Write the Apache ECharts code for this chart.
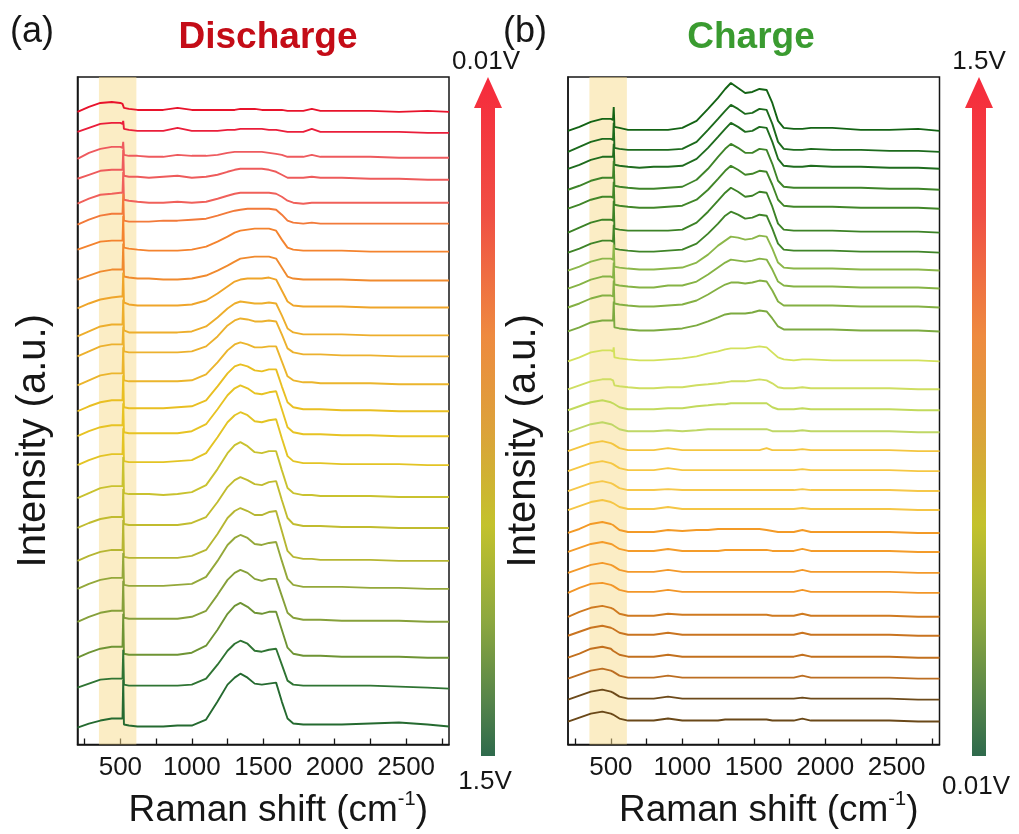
<!DOCTYPE html>
<html>
<head>
<meta charset="utf-8">
<script src="https://cdn.jsdelivr.net/npm/echarts/dist/echarts.min.js"></script>
<style>html,body{margin:0;padding:0;background:#fff;}#main{width:1019px;height:834px;}</style>
</head>
<body>
<div id="main"></div>
<script>
// Raman shift sample positions (cm-1)
const X = [200,280,360,440,500,515,520,525,560,620, 700,800,900,1000,1100,1180,1250,1300,1340,1390, 1440,1490,1540,1590,1630,1670,1710,1780,1840,1900, 2050,2250,2450,2650,2800];
const tickValues = [250,500,750,1000,1250,1500,1750,2000,2250,2500,2750];
const labelValues = [500,1000,1500,2000,2500];
const bandRange = [350, 612];

// (a) Discharge: stacking offsets (top 0.01V -> bottom 1.5V)
const dischargeBase = [634,613,588,566,543,522,494,465,438,410,389,361,334,309,280,248,217,184,156,123,87,56,17];
const dischargeShape = [
[0,5,9,10,9,8,8,4,3,2, 2,2,4,2,2,2,2,2,3,3, 3,2,2,2,2,1,1,1,3,1, 1,1,0,1,0],
[1,5,9,10,10,9,12,4,3,2, 2,2,5,2,2,2,3,3,4,4, 4,4,3,3,2,1,1,1,4,1, 1,1,1,0,0],
[-1,5,9,11,11,10,16,3,2,2, 1,1,3,2,2,3,5,6,6,6, 6,6,5,4,3,1,1,1,3,1, 1,1,0,0,0],
[1,5,9,10,10,10,30,4,3,3, 2,3,4,2,3,5,8,10,11,11, 11,11,10,8,5,2,2,2,3,2, 2,1,1,0,0],
[-1,4,8,9,10,10,31,3,2,1, 0,0,1,0,1,4,7,9,10,10, 10,10,10,9,6,2,0,-1,0,0, 0,0,0,0,0],
[-1,4,8,10,10,10,30,3,2,2, 2,3,3,4,5,8,11,13,14,15, 15,15,15,14,9,3,1,0,1,0, 0,0,0,0,0],
[2,6,10,11,11,11,36,4,3,2, 1,1,1,2,5,10,15,19,21,22, 23,23,23,21,12,4,2,1,1,1, 1,0,0,0,0],
[1,5,9,11,11,11,37,4,3,2, 2,1,1,2,5,10,15,19,22,23, 24,24,24,22,13,4,2,1,1,1, 1,0,0,0,0],
[-1,4,8,10,11,11,35,5,3,2, 2,2,2,3,7,14,21,26,28,29, 29,29,30,28,17,6,2,1,1,1, 1,0,0,0,0],
[-1,4,9,11,11,11,36,5,3,3, 3,3,3,4,9,18,27,32,34,33, 32,32,33,32,20,7,3,1,1,1, 1,0,0,0,0],
[0,5,10,12,12,12,30,5,4,4, 4,4,4,5,10,20,31,36,38,37, 35,35,36,35,22,8,4,2,2,2, 1,1,0,0,0],
[-1,4,9,11,11,11,37,4,3,3, 3,3,3,4,10,22,34,40,42,40, 37,37,38,38,23,8,4,2,2,1, 1,1,0,0,0],
[0,5,9,11,11,11,36,4,3,3, 3,3,4,5,11,25,38,45,47,45, 41,40,42,42,25,9,4,2,2,2, 1,1,0,0,0],
[0,5,9,11,11,11,33,4,3,3, 3,3,3,5,12,27,41,48,51,48, 43,42,44,45,27,9,4,2,2,2, 1,1,0,0,0],
[0,5,9,11,11,11,37,4,3,3, 3,3,4,5,12,28,43,50,53,50, 44,43,45,46,27,9,4,2,2,2, 1,1,1,0,0],
[-1,4,9,11,11,11,40,4,3,3, 3,2,3,5,12,28,44,52,55,51, 45,44,46,46,27,9,4,2,2,1, 1,1,0,0,0],
[0,5,9,11,11,11,39,4,3,3, 3,3,3,5,11,26,41,48,51,48, 44,43,46,47,28,10,4,2,2,2, 1,1,0,0,0],
[0,5,9,11,11,11,41,4,3,3, 3,3,3,5,11,27,43,50,53,50, 46,46,49,50,30,10,4,2,2,1, 1,1,0,0,0],
[0,5,9,11,11,11,36,4,3,3, 3,3,4,5,12,28,44,51,54,51, 45,44,46,47,28,10,4,2,2,2, 2,1,1,0,0],
[0,5,9,11,11,11,41,4,3,3, 3,3,3,5,11,27,42,49,52,49, 43,41,43,43,26,9,4,2,2,2, 1,1,1,0,0],
[0,5,9,11,11,11,44,4,3,3, 3,3,3,5,12,28,44,52,55,51, 45,44,46,46,28,10,4,2,2,2, 1,1,1,0,0],
[1,5,9,10,10,10,39,4,3,3, 3,3,3,4,10,24,38,45,48,45, 38,37,39,40,24,8,4,3,3,3, 3,3,2,1,0],
[0,4,7,9,9,9,48,3,2,1, 1,1,2,2,8,26,43,50,54,50, 44,43,44,45,26,9,4,3,3,3, 3,4,5,3,1]
];
const dischargeColors = ['#E8132B','#EA1E3A','#EE5A5E','#EE5B5B','#F0605A','#F27A3A','#F4832E','#F08A2E','#EFA52A','#EDAE2C','#ECB12E','#EBB52C','#E9BF22','#E7C323','#E3C424','#C9C22F','#C1BC2F','#B6B632','#94A83A','#86A03A','#6E9434','#2F7433','#256A30'];

// (b) Charge: stacking offsets (top 1.5V -> bottom 0.01V)
const chargeBase = [615,594,577,556,537,513,493,475,457,438,414,384,356,335,313,294,274,254,235,212,193,172,152,128,109,87,66,45,23];
const chargeShape = [
[0,4,9,12,12,11,24,4,3,1, 1,1,1,3,10,22,33,42,48,43, 38,39,42,41,28,10,3,2,2,3, 3,1,1,2,0],
[0,5,10,13,13,12,29,4,3,2, 2,2,2,3,10,22,33,41,47,43, 38,39,43,42,28,10,3,2,2,3, 2,2,1,1,0],
[0,4,9,12,12,12,25,4,3,2, 1,2,2,3,10,21,32,40,46,42, 37,38,42,41,27,10,3,2,2,3, 2,2,1,1,0],
[0,4,9,12,12,12,29,4,3,2, 1,1,2,3,10,21,33,41,46,42, 37,37,41,40,26,9,3,2,2,2, 2,2,1,1,0],
[0,4,9,12,12,11,27,4,3,2, 1,1,2,3,9,19,30,38,43,39, 34,35,38,37,24,9,3,2,2,2, 2,1,1,1,0],
[0,5,10,13,13,12,32,4,3,2, 2,2,2,3,10,21,32,40,45,41, 36,37,41,40,26,9,3,2,2,2, 2,1,1,1,0],
[0,4,9,12,12,11,28,4,3,2, 1,1,2,3,9,19,29,37,41,38, 34,35,38,37,24,9,3,2,2,2, 2,1,1,1,0],
[0,4,9,12,12,11,26,4,3,2, 1,1,2,3,8,16,25,30,34,33, 31,32,35,34,22,8,3,2,2,2, 2,1,1,1,0],
[0,4,9,12,12,11,26,4,3,2, 1,1,3,3,7,14,21,26,29,28, 27,28,30,29,19,7,3,2,2,2, 2,1,1,1,0],
[0,4,9,12,12,11,27,4,3,2, 1,1,2,3,7,13,19,23,25,25, 24,25,27,26,17,6,2,2,2,2, 2,1,1,1,0],
[0,4,9,11,11,11,30,4,3,2, 1,1,2,3,6,10,14,17,18,18, 18,19,21,20,13,5,2,2,2,2, 2,1,1,1,0],
[0,4,9,11,11,10,14,4,3,2, 1,1,2,3,5,8,10,12,13,13, 13,14,15,14,9,4,2,1,2,2, 1,1,1,1,0],
[0,4,8,10,10,9,11,4,3,2, 1,1,2,2,4,5,6,7,8,8, 8,9,10,9,6,2,1,1,2,1, 1,1,1,0,0],
[0,4,8,10,8,7,7,6,3,1, 1,1,2,2,4,5,6,6,7,7, 7,7,7,7,3,1,1,1,2,1, 1,1,1,0,0],
[0,4,8,10,8,7,7,6,3,1, 1,1,2,1,2,3,3,3,3,3, 3,3,3,3,1,1,1,1,2,1, 1,1,1,0,0],
[0,4,8,10,8,7,7,6,3,1, 1,1,3,1,1,1,1,1,1,1, 1,1,1,3,1,1,1,1,2,1, 1,1,1,0,0],
[0,4,8,10,8,7,7,6,3,1, 1,1,3,1,1,1,1,1,1,1, 1,1,1,1,1,1,1,1,2,1, 1,1,1,0,0],
[0,4,8,10,8,7,7,6,3,1, 1,1,2,1,1,1,1,1,1,1, 1,1,1,1,1,1,1,1,2,1, 1,1,1,0,0],
[0,4,8,10,8,7,7,6,3,1, 1,1,3,1,1,1,1,1,1,1, 1,1,1,1,1,1,1,1,2,1, 1,1,1,0,0],
[0,4,9,11,9,8,8,7,3,1, 1,1,3,2,3,3,4,4,4,4, 4,4,4,3,2,1,1,1,3,1, 1,1,1,0,0],
[0,4,8,10,8,7,7,6,3,1, 1,1,3,1,1,1,1,2,2,2, 2,2,2,2,1,1,1,1,3,1, 1,1,1,0,0],
[0,4,8,10,8,7,7,6,3,1, 1,1,3,1,1,1,1,1,1,1, 1,1,1,1,1,1,1,1,3,1, 1,1,1,0,0],
[0,5,9,10,8,7,7,6,3,1, 1,1,3,1,1,1,1,1,1,1, 1,1,1,1,1,1,1,1,3,1, 1,1,1,0,0],
[0,5,9,11,9,8,8,7,3,1, 1,1,3,2,2,2,2,2,2,2, 2,2,2,2,1,1,1,1,3,1, 1,1,1,0,0],
[0,4,8,10,8,7,7,6,3,1, 1,1,3,1,1,1,1,1,1,1, 1,1,1,1,1,1,1,1,3,1, 1,1,1,0,0],
[0,4,9,11,9,7,7,6,3,1, 1,1,3,1,1,1,1,1,1,1, 1,1,1,1,1,1,1,1,3,1, 1,1,1,0,0],
[0,4,8,10,8,7,7,6,3,1, 1,1,3,1,1,1,1,1,1,1, 1,1,1,1,1,1,1,1,3,1, 1,1,1,0,0],
[0,4,8,10,8,7,7,6,3,1, 1,1,3,1,1,1,1,1,1,1, 1,1,1,1,1,1,1,1,2,1, 1,1,1,0,0],
[0,4,8,10,8,7,7,6,3,1, 1,1,3,1,1,1,1,2,2,2, 2,2,2,2,1,1,1,1,3,1, 1,1,1,0,0]
];
const chargeColors = ['#136314','#1C6A1C','#1F6C1E','#3E8429','#418628','#3C8226','#3F8428','#8CB74A','#86B345','#84B043','#7CAA40','#D3E15C','#CFDE62','#C2DA5C','#BFD766','#F4C640','#F6C844','#F6C84A','#F5C645','#F39A26','#F49C2A','#F3992A','#F29628','#CF7A20','#C97420','#C2701E','#BC6E22','#6D4A1A','#6A4818'];

const FONT = '"Liberation Sans", Arial, Helvetica, sans-serif';
const INK = '#161616';

function curveSeries(base, shape, colors, idx, prefix) {
  return base.map((b, i) => ({
    name: prefix + ' ' + (i + 1),
    type: 'line',
    xAxisIndex: idx, yAxisIndex: idx,
    data: X.map((x, j) => [x, b + shape[i][j]]),
    symbol: 'none', showSymbol: false, smooth: false,
    lineStyle: { color: colors[i], width: 1.9 },
    itemStyle: { color: colors[i] },
    z: 3, silent: true
  }));
}
function bandSeries(idx) {
  return {
    type: 'line', xAxisIndex: idx, yAxisIndex: idx, data: [], z: 1, silent: true,
    markArea: { silent: true, itemStyle: { color: 'rgba(248,220,140,0.5)' },
      data: [[{ xAxis: bandRange[0] }, { xAxis: bandRange[1] }]] }
  };
}
function xAxisOpt(idx) {
  return {
    gridIndex: idx, type: 'value', min: 200, max: 2800,
    axisLine: { show: true, onZero: false, lineStyle: { color: INK, width: 1.5 } },
    axisTick: { show: true, inside: true, length: 6, customValues: tickValues, lineStyle: { color: INK, width: 1.3 } },
    axisLabel: { customValues: labelValues, formatter: (v) => String(v), fontSize: 26, fontFamily: FONT, color: INK, margin: 10 },
    splitLine: { show: false },
    name: '{n|Raman shift (cm}{s|-1}{n|)}', nameLocation: 'middle', nameGap: 45,
    nameTextStyle: { padding: [0, 0, 0, 30], rich: {
      n: { fontSize: 37, fontFamily: FONT, color: INK, lineHeight: 42 },
      s: { fontSize: 20, fontFamily: FONT, color: INK, lineHeight: 26, verticalAlign: 'top' } } }
  };
}
function yAxisOpt(idx) {
  return {
    gridIndex: idx, type: 'value', min: 0, max: 669,
    axisLine: { show: true, lineStyle: { color: INK, width: 1.5 } },
    axisTick: { show: false }, axisLabel: { show: false }, splitLine: { show: false },
    name: 'Intensity (a.u.)', nameLocation: 'middle', nameGap: 24, nameRotate: 90,
    nameTextStyle: { fontSize: 40, fontFamily: FONT, color: INK, padding: [0, 60, 0, 0] }
  };
}
const arrowGrad = { type: 'linear', x: 0, y: 0, x2: 0, y2: 1, colorStops: [
  { offset: 0, color: '#F62A3C' }, { offset: 0.2, color: '#F04E44' }, { offset: 0.38, color: '#EE8A40' },
  { offset: 0.52, color: '#DCA23A' }, { offset: 0.66, color: '#C3C22C' }, { offset: 0.8, color: '#8DA83F' },
  { offset: 0.92, color: '#55844A' }, { offset: 1, color: '#2E6A4C' } ] };
function txt(text, x, y, size, color, weight) {
  return { type: 'text', silent: true, style: { text: text, x: x, y: y, fill: color || INK,
    fontSize: size, fontFamily: FONT, fontWeight: weight || 'normal',
    align: 'center', verticalAlign: 'middle', textAlign: 'center', textVerticalAlign: 'middle' } };
}

const chart = echarts.init(document.getElementById('main'), null, { renderer: 'canvas' });
chart.setOption({
  animation: false,
  backgroundColor: '#ffffff',
  grid: [
    { left: 77.5, top: 77, width: 371.5, height: 669, show: true, borderColor: INK, borderWidth: 1.5, backgroundColor: 'transparent', containLabel: false },
    { left: 568, top: 77, width: 371.5, height: 669, show: true, borderColor: INK, borderWidth: 1.5, backgroundColor: 'transparent', containLabel: false }
  ],
  xAxis: [xAxisOpt(0), xAxisOpt(1)],
  yAxis: [yAxisOpt(0), yAxisOpt(1)],
  series: [bandSeries(0), bandSeries(1)]
    .concat(curveSeries(dischargeBase, dischargeShape, dischargeColors, 0, 'Discharge'))
    .concat(curveSeries(chargeBase, chargeShape, chargeColors, 1, 'Charge')),
  graphic: [
    txt('(a)', 32, 32, 36),
    txt('Discharge', 268, 38, 37, '#C40C17', 'bold'),
    txt('(b)', 525, 32, 36),
    txt('Charge', 751, 38, 37, '#3A9B30', 'bold'),
    { type: 'polygon', silent: true, shape: { points: [[481,756],[481,108],[474,108],[488,77],[502,108],[495,108],[495,756]] }, style: { fill: arrowGrad } },
    { type: 'polygon', silent: true, shape: { points: [[972,756],[972,108],[965,108],[979,77],[993,108],[986,108],[986,756]] }, style: { fill: arrowGrad } },
    txt('0.01V', 486, 62, 26),
    txt('1.5V', 485, 782, 26),
    txt('1.5V', 979, 62, 26),
    txt('0.01V', 976, 787, 26)
  ]
});
</script>
</body>
</html>
